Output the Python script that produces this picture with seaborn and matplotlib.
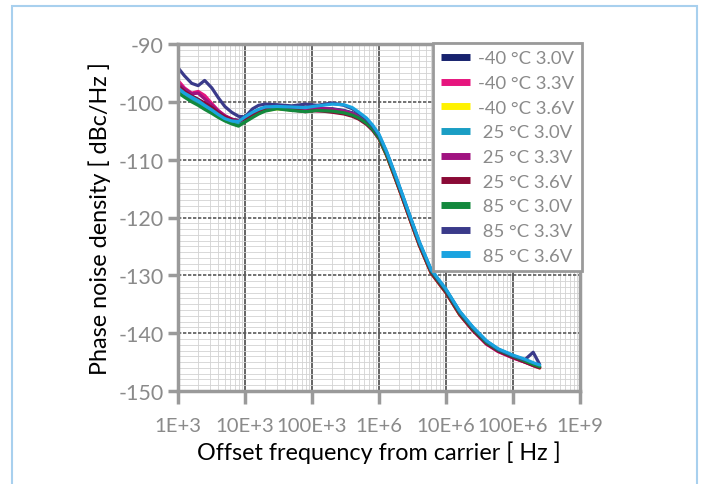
import matplotlib
matplotlib.use("Agg")
import matplotlib.pyplot as plt
import matplotlib.ticker as mticker
from matplotlib.patches import Rectangle
from matplotlib.lines import Line2D
import seaborn as sns
import pandas as pd

freq = [1.0e3, 1.25e3, 1.6e3, 2.0e3, 2.5e3, 3.2e3, 4.0e3, 5.0e3, 6.3e3, 8.0e3,
        1.0e4, 1.3e4, 1.6e4, 2.0e4, 3.0e4, 5.0e4, 8.0e4, 1.2e5, 2.0e5, 3.0e5,
        4.0e5, 5.0e5, 6.5e5, 8.0e5, 1.0e6, 1.3e6, 1.7e6, 2.2e6, 3.0e6, 4.0e6,
        6.0e6, 1.0e7, 1.6e7, 2.5e7, 4.0e7, 6.0e7, 1.0e8, 1.5e8, 2.0e8, 2.5e8]

m40_30 = [-97.0, -98.0, -99.0, -99.6, -100.3, -101.0, -101.8, -102.5, -103.0, -103.2,
          -102.8, -102.0, -101.6, -101.2, -100.9, -101.0, -101.3, -101.2, -101.2, -101.5,
          -101.9, -102.5, -103.4, -104.4, -106.0, -109.0, -112.6, -116.2, -120.6, -124.6,
          -129.4, -132.8, -136.6, -139.3, -141.6, -142.9, -144.0, -144.8, -145.4, -145.9]
m40_33 = [-96.3, -97.6, -98.5, -98.2, -98.9, -100.3, -101.5, -102.4, -103.0, -103.4,
          -102.9, -102.2, -101.7, -101.4, -101.1, -101.3, -101.0, -101.6, -101.5, -101.8,
          -102.2, -102.8, -103.6, -104.6, -106.2, -109.2, -112.8, -116.4, -120.8, -124.8,
          -129.6, -133.0, -136.8, -139.5, -141.9, -143.2, -144.3, -145.0, -145.6, -146.0]
m40_36 = [-97.4, -98.4, -99.3, -99.9, -100.6, -101.3, -102.0, -102.8, -103.3, -103.5,
          -103.0, -102.3, -101.9, -101.5, -101.2, -101.4, -101.6, -101.4, -101.6, -101.9,
          -102.3, -102.9, -103.7, -104.8, -106.3, -109.3, -112.9, -116.4, -120.8, -124.8,
          -129.6, -133.0, -136.8, -139.4, -141.7, -143.0, -144.1, -144.9, -145.5, -146.0]
p25_30 = [-98.0, -98.9, -99.7, -100.4, -101.0, -101.7, -102.4, -103.0, -103.6, -104.0,
          -103.3, -102.5, -101.9, -101.4, -101.0, -101.2, -101.4, -101.2, -101.3, -101.6,
          -102.0, -102.6, -103.5, -104.5, -106.0, -109.0, -112.5, -116.0, -120.4, -124.4,
          -129.2, -132.5, -136.3, -139.0, -141.4, -142.8, -143.9, -144.7, -145.3, -145.7]
p25_33 = [-96.8, -97.8, -98.6, -98.5, -99.5, -100.6, -101.6, -102.4, -103.0, -103.3,
          -102.8, -102.1, -101.5, -101.3, -100.9, -101.1, -101.2, -101.0, -101.3, -101.6,
          -102.0, -102.6, -103.5, -104.6, -106.1, -109.1, -112.7, -116.3, -120.7, -124.7,
          -129.5, -132.9, -136.7, -139.4, -141.8, -143.1, -144.2, -145.0, -145.5, -145.9]
p25_36 = [-97.2, -98.2, -99.0, -99.6, -100.2, -101.0, -101.9, -102.6, -103.1, -103.4,
          -102.9, -102.1, -101.6, -101.3, -101.1, -101.4, -101.7, -101.5, -101.8, -102.1,
          -102.5, -103.0, -103.9, -104.9, -106.4, -109.3, -112.9, -116.4, -120.8, -124.8,
          -129.6, -133.0, -136.8, -139.5, -141.8, -143.1, -144.2, -145.0, -145.6, -146.0]
p85_30 = [-98.4, -99.2, -100.0, -100.6, -101.3, -102.0, -102.7, -103.3, -103.8, -104.2,
          -103.5, -102.7, -102.1, -101.6, -101.2, -101.5, -101.7, -101.5, -101.6, -101.9,
          -102.3, -102.8, -103.7, -104.7, -106.2, -109.1, -112.6, -116.1, -120.5, -124.5,
          -129.3, -132.7, -136.5, -139.2, -141.6, -142.9, -144.0, -144.8, -145.4, -145.8]
p85_33 = [-94.1, -95.5, -96.8, -97.2, -96.3, -97.6, -99.3, -100.8, -101.8, -102.5,
          -102.6, -101.2, -100.6, -100.4, -100.5, -100.7, -100.4, -100.6, -100.2, -100.6,
          -101.2, -102.0, -103.0, -104.2, -105.8, -108.7, -112.3, -115.9, -120.3, -124.3,
          -129.1, -132.5, -136.3, -139.0, -141.4, -142.8, -143.9, -144.6, -143.3, -145.4]
p85_36 = [-97.6, -98.5, -99.2, -99.8, -100.6, -101.4, -102.2, -102.9, -103.3, -103.4,
          -102.6, -101.8, -101.3, -100.9, -100.8, -100.9, -101.0, -100.7, -100.4, -100.5,
          -101.0, -101.8, -102.8, -104.0, -105.6, -108.6, -112.2, -115.8, -120.2, -124.2,
          -129.0, -132.4, -136.2, -138.9, -141.3, -142.7, -143.8, -144.5, -145.1, -145.5]

series_labels = ["-40 °C 3.0V", "-40 °C 3.3V", "-40 °C 3.6V",
                 " 25 °C 3.0V", " 25 °C 3.3V", " 25 °C 3.6V",
                 " 85 °C 3.0V", " 85 °C 3.3V", " 85 °C 3.6V"]
series_values = [m40_30, m40_33, m40_36, p25_30, p25_33, p25_36, p85_30, p85_33, p85_36]
series_colors = ["#17226e", "#e6157e", "#fff200", "#1a9ec4", "#a01380",
                 "#8a0a36", "#13893d", "#3a3a8a", "#1aa3e0"]

xtick_vals = [1e3, 1e4, 1e5, 1e6, 1e7, 1e8, 1e9]
xtick_labels = ["1E+3", "10E+3", "100E+3", "1E+6", "10E+6", "100E+6", "1E+9"]
ytick_vals = [-150, -140, -130, -120, -110, -100, -90]

rows = []
for lab, vals in zip(series_labels, series_values):
    for f, v in zip(freq, vals):
        rows.append({"freq": f, "pn": v, "series": lab})
df = pd.DataFrame(rows)

sns.set_theme(style="white")
plt.rcParams['font.family'] = ['Lato', 'DejaVu Sans']
plt.rcParams['axes.unicode_minus'] = False

fig = plt.figure(figsize=(7.04, 4.85), dpi=100)
ax = fig.add_axes([178/704, 1-392/485, (580-178)/704, (392-45)/485])

palette = dict(zip(series_labels, series_colors))
sns.lineplot(data=df, x="freq", y="pn", hue="series", hue_order=series_labels,
             palette=palette, linewidth=2.3, ax=ax, legend=False, sort=False)

ax.set_xscale("log")
ax.set_xlim(1e3, 1e9)
ax.set_ylim(-150, -90)

ax.xaxis.set_major_locator(mticker.FixedLocator(xtick_vals))
ax.xaxis.set_major_formatter(mticker.FixedFormatter(xtick_labels))
ax.xaxis.set_minor_locator(mticker.LogLocator(base=10, subs=range(2, 10), numticks=50))
ax.xaxis.set_minor_formatter(mticker.NullFormatter())
ax.yaxis.set_major_locator(mticker.FixedLocator(ytick_vals))
ax.yaxis.set_minor_locator(mticker.MultipleLocator(1))

ax.grid(which="minor", axis="both", color="#d2d2d2", linewidth=0.6)
ax.grid(which="major", axis="x", color="#4a4a4a", linewidth=1.2)
ax.grid(which="major", axis="y", color="#5a5a5a", linewidth=1.2, linestyle=(0, (2, 1)))
ax.set_axisbelow(True)

for s in ax.spines.values():
    s.set_color("#9a9a9a")
    s.set_linewidth(2.5)

ax.tick_params(axis="both", which="major", direction="out", width=2.5,
               color="#9a9a9a", labelcolor="#8a8a8a", bottom=True, left=True)
ax.tick_params(axis="y", which="major", labelsize=15.5, length=7.5, pad=3)
ax.tick_params(axis="x", which="major", labelsize=14.6, length=9, pad=10)
ax.tick_params(axis="both", which="minor", length=0)
ax.set_xlabel("Offset frequency from carrier [ Hz ]", fontsize=16.8, color="black", labelpad=4)
ax.set_ylabel("Phase noise density [ dBc/Hz ]", fontsize=16.8, color="black", labelpad=5)

handles = [Line2D([], [], color=c, linewidth=5, solid_capstyle="butt") for c in series_colors]
leg = ax.legend(handles, series_labels, loc="upper right",
                bbox_to_anchor=(582/704, 1-44/485), bbox_transform=fig.transFigure,
                frameon=True, fancybox=False, fontsize=13.3, handlelength=1.6,
                handletextpad=0.45, labelspacing=0.47, borderpad=0.4, borderaxespad=0)
leg.get_frame().set_edgecolor("#9a9a9a")
leg.get_frame().set_linewidth(2)
leg.get_frame().set_facecolor("white")
leg.get_frame().set_alpha(1)
for t in leg.get_texts():
    t.set_color("#8a8a8a")

fig.patches.append(Rectangle((12/704, -0.1), (697-12)/704, 1.1 - 7/485,
                             transform=fig.transFigure, fill=False,
                             edgecolor="#a8d0ee", linewidth=1.5))

fig.savefig("out.png", dpi=100)
